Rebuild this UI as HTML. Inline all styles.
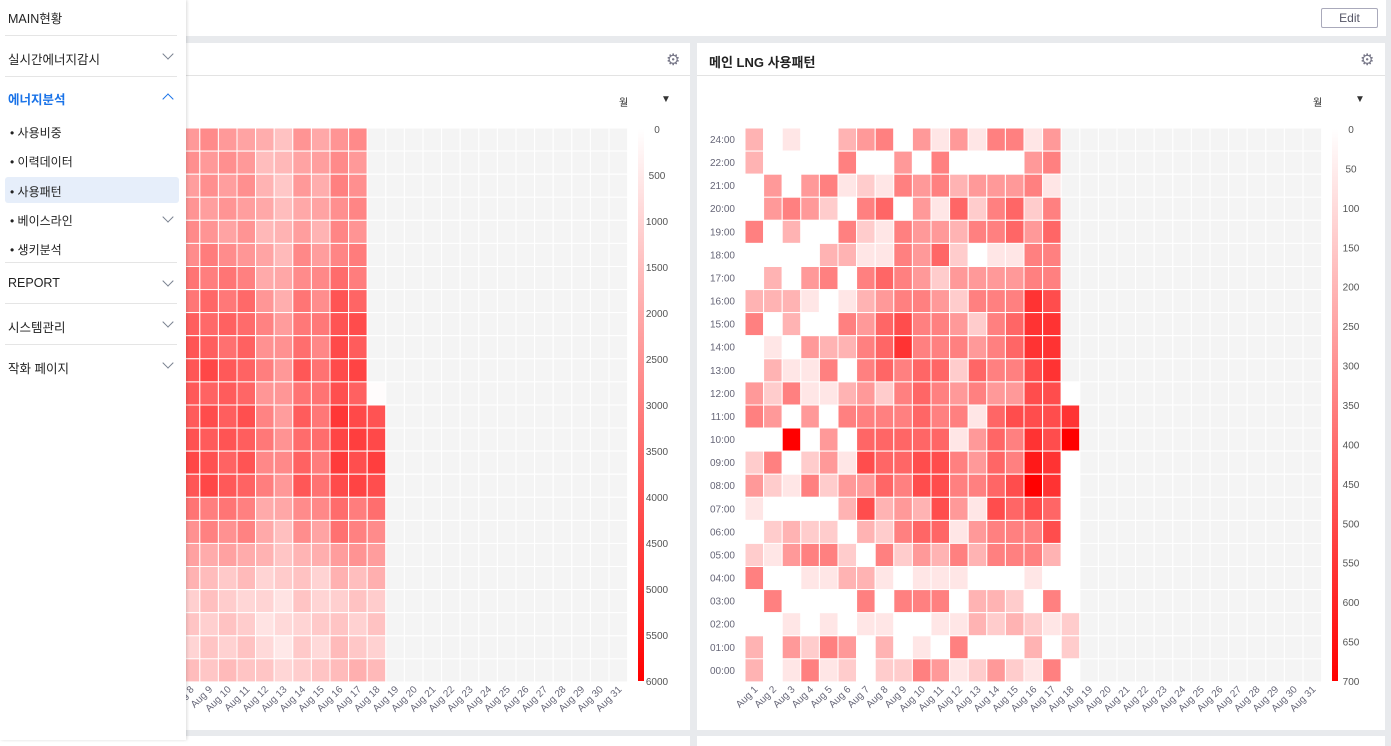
<!DOCTYPE html>
<html><head><meta charset="utf-8"><style>
*{margin:0;padding:0;box-sizing:border-box}
body{width:1391px;height:740px;overflow:hidden;background:#e8eaed;font-family:"Liberation Sans","Noto Sans CJK KR",sans-serif;position:relative}
.top{position:absolute;left:0;top:0;width:1386px;height:36px;background:#fff}
.edit{position:absolute;left:1321px;top:8px;width:57px;height:20px;border:1px solid #aab;border-radius:2px;font-size:12px;color:#556;text-align:center;line-height:18px}
.panel{position:absolute;top:43px;height:687px;background:#fff}
.hdr{position:absolute;left:0;right:0;top:0;height:33px;border-bottom:1px solid #e3e3e3}
.title{position:absolute;left:12px;top:9px;font-size:13px;font-weight:bold;color:#222}
.gear{position:absolute;top:7px;font-size:16px;color:#778}
.sel{position:absolute;top:51px;font-size:10px;color:#333}
.side{position:absolute;left:0;top:0;width:186px;height:740px;background:#fff;box-shadow:1px 0 3px rgba(0,0,0,.15)}
.it{position:absolute;left:8px;font-size:12.5px;color:#222}
.sub{position:absolute;left:10px;font-size:12px;color:#222}
.dv{position:absolute;left:5px;width:172px;height:1px;background:#e5e5e5}
.chev{position:absolute;left:164px;width:8px;height:8px;border-right:1.3px solid #7a8290;border-bottom:1.3px solid #7a8290;transform:rotate(45deg)}
</style></head><body>
<div class="top"><div class="edit">Edit</div></div>
<div class="panel" style="left:0;width:690px"><div class="hdr"></div><div class="gear" style="left:666px">⚙</div><div class="sel" style="left:619px">월</div><div class="sel" style="left:661px">▼</div><svg id="L" width="690" height="687" style="position:absolute;left:0;top:0"></svg></div>
<div class="panel" style="left:697px;width:688px"><div class="hdr"><div class="title">메인 LNG 사용패턴</div></div><div class="gear" style="left:663px">⚙</div><div class="sel" style="left:616px">월</div><div class="sel" style="left:658px">▼</div><svg id="R" width="688" height="687" style="position:absolute;left:0;top:0"></svg></div>
<div class="panel" style="left:0;top:736px;width:690px;height:10px"></div>
<div class="panel" style="left:697px;top:736px;width:688px;height:10px"></div>
<div class="side">
<div class="it" style="top:8px">MAIN현황</div><div class="dv" style="top:35px"></div>
<div class="it" style="top:49px">실시간에너지감시</div><div class="chev" style="top:50px"></div><div class="dv" style="top:76px"></div>
<div class="it" style="top:89px;color:#1a73e8;font-weight:bold">에너지분석</div><div class="chev" style="top:95px;transform:rotate(225deg);border-color:#1a73e8"></div>
<div class="sub" style="top:124px">• 사용비중</div>
<div class="sub" style="top:153px">• 이력데이터</div>
<div style="position:absolute;left:5px;top:177px;width:174px;height:26px;background:#e6eefa;border-radius:3px"></div>
<div class="sub" style="top:183px">• 사용패턴</div>
<div class="sub" style="top:212px">• 베이스라인</div><div class="chev" style="top:213px"></div>
<div class="sub" style="top:241px">• 생키분석</div><div class="dv" style="top:262px"></div>
<div class="it" style="top:276px">REPORT</div><div class="chev" style="top:277px"></div><div class="dv" style="top:303px"></div>
<div class="it" style="top:317px">시스템관리</div><div class="chev" style="top:318px"></div><div class="dv" style="top:344px"></div>
<div class="it" style="top:358px">작화 페이지</div><div class="chev" style="top:359px"></div>
</div>
<script>
var R=[
[3,0,1,0,0,3,4,5,0,4,1,4,1,5,5,1,4,-1],
[3,0,0,0,0,5,0,0,4,0,5,0,0,0,0,4,5,-1],
[0,4,0,4,5,1,2,1,5,4,5,3,4,4,4,5,1,-1],
[0,4,5,4,2,0,5,6,0,4,1,6,2,5,6,2,5,-1],
[5,0,3,0,0,5,2,1,5,4,4,3,5,5,6,4,6,-1],
[0,0,0,0,3,3,1,1,5,4,6,2,0,1,1,5,5,-1],
[0,3,0,4,5,0,5,6,5,4,2,4,4,4,4,5,5,-1],
[3,3,3,1,0,1,3,4,5,5,4,2,5,5,5,8,7,-1],
[5,0,3,0,0,5,4,6,7,5,5,4,2,5,6,8,8,-1],
[0,1,0,4,3,3,5,6,8,5,5,5,4,5,6,8,8,-1],
[0,3,1,1,5,0,5,6,5,6,6,2,6,5,5,7,8,-1],
[4,2,5,1,1,3,4,2,5,6,5,4,5,4,4,7,7,0],
[5,4,0,4,0,5,5,5,5,6,5,5,1,6,7,7,7,8],
[0,0,10,0,4,0,6,6,6,6,6,1,4,6,5,8,7,10],
[2,5,0,2,4,1,7,6,6,7,7,5,4,6,5,9,8,0],
[4,2,1,5,2,4,4,6,5,7,7,5,5,6,7,10,8,0],
[1,0,0,0,0,3,7,3,4,3,7,4,1,7,6,7,6,0],
[0,2,3,2,2,0,3,2,5,6,6,1,4,5,5,5,7,0],
[2,1,4,5,5,2,0,5,2,4,3,5,3,5,5,5,3,0],
[5,0,0,1,1,3,3,1,0,1,1,1,0,0,0,1,0,0],
[0,5,0,0,0,0,5,0,5,5,5,0,3,3,2,0,5,0],
[0,0,1,0,1,0,1,1,0,0,1,1,3,2,3,2,1,2],
[3,0,4,2,5,4,0,3,0,1,0,5,0,0,0,3,0,2],
[3,0,1,5,1,2,0,2,2,5,4,1,2,4,2,1,5,0]];
var rowL=[4,4,4,4,4,4.5,5,5.5,6,6,6.5,6,6.5,6.5,6.5,6.5,5,4.5,3.5,2.5,2,2,2,2.5];
var colF=[1,1,1,1,1,1,1,1.05,1.05,1,1,0.75,0.65,0.95,0.85,1.15,1.1,1.1];
var L=[];for(var r=0;r<24;r++){var row=[];for(var c=0;c<18;c++){var v=rowL[r]*colF[c]+((r*7+c*3)%5-2)*0.2;if(c==17){v=r<11?-1:(r==11?0.1:v)}row.push(Math.min(10,v))}L.push(row)}
var labs=["24:00","22:00","21:00","20:00","19:00","18:00","17:00","16:00","15:00","14:00","13:00","12:00","11:00","10:00","09:00","08:00","07:00","06:00","05:00","04:00","03:00","02:00","01:00","00:00"];
function col(v){if(v<0)return"#f4f4f4";var t=Math.max(0,v)/10,g=Math.round(255*(1-t));return"rgb(255,"+g+","+g+")"}
function draw(id,data,gx,ticks){var s="";var top=85,cw=18.6,rh=23.08;
for(var c=0;c<31;c++)for(var r=0;r<24;r++){var v=c<18?data[r][c]:-1;s+='<rect x="'+(gx+c*cw).toFixed(1)+'" y="'+(top+r*rh).toFixed(1)+'" width="'+cw.toFixed(1)+'" height="'+rh.toFixed(1)+'" fill="'+col(v)+'" stroke="#fff" stroke-width="1"/>'}
for(var r=0;r<24;r++)s+='<text x="'+(gx-10)+'" y="'+(top+r*rh+15)+'" font-size="10" fill="#667" text-anchor="end">'+labs[r]+'</text>';
for(var c=0;c<31;c++){var x=gx+c*cw+cw/2+4,y=top+24*rh+8;s+='<text x="'+x+'" y="'+y+'" font-size="10" fill="#667" text-anchor="end" transform="rotate(-45 '+x+' '+y+')">Aug '+(c+1)+'</text>'}
var cx=gx+587;s+='<defs><linearGradient id="g'+id+'" x1="0" y1="0" x2="0" y2="1"><stop offset="0" stop-color="#fff"/><stop offset="1" stop-color="#f00"/></linearGradient></defs><rect x="'+cx+'" y="86" width="6" height="552" fill="url(#g'+id+')"/>';
for(var i=0;i<ticks.length;i++){var y=86+552*i/(ticks.length-1)+4;s+='<text x="'+(cx+19)+'" y="'+y+'" font-size="10" fill="#555" text-anchor="middle">'+ticks[i]+'</text>'}
document.getElementById(id).innerHTML=s}
var t1=[],t2=[];for(var i=0;i<=12;i++)t1.push(i*500);for(var i=0;i<=14;i++)t2.push(i*50);
draw("L",L,51,t1);draw("R",R,48,t2);
</script>
</body></html>
